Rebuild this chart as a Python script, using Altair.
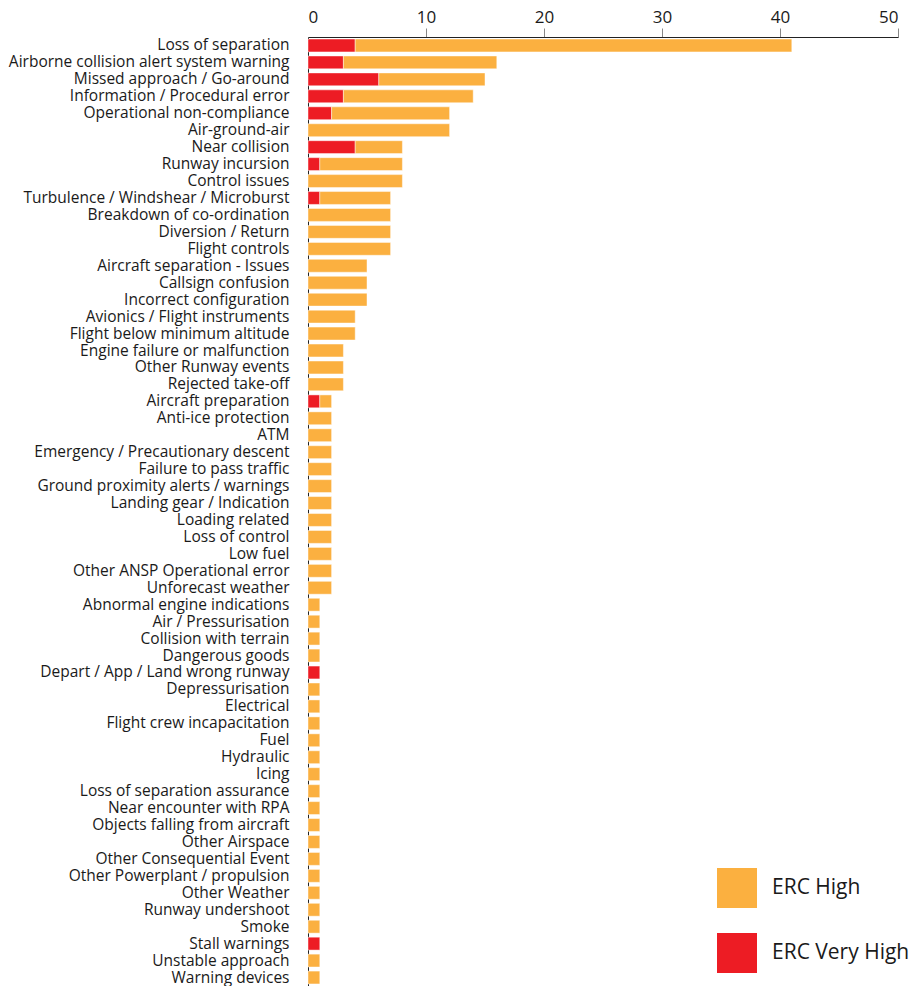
import altair as alt
import pandas as pd

categories = [
    "Loss of separation", "Airborne collision alert system warning", "Missed approach / Go-around",
    "Information / Procedural error", "Operational non-compliance", "Air-ground-air", "Near collision",
    "Runway incursion", "Control issues", "Turbulence / Windshear / Microburst", "Breakdown of co-ordination",
    "Diversion / Return", "Flight controls", "Aircraft separation - Issues", "Callsign confusion",
    "Incorrect configuration", "Avionics / Flight instruments", "Flight below minimum altitude",
    "Engine failure or malfunction", "Other Runway events", "Rejected take-off", "Aircraft preparation",
    "Anti-ice protection", "ATM", "Emergency / Precautionary descent", "Failure to pass traffic",
    "Ground proximity alerts / warnings", "Landing gear / Indication", "Loading related", "Loss of control",
    "Low fuel", "Other ANSP Operational error", "Unforecast weather", "Abnormal engine indications",
    "Air / Pressurisation", "Collision with terrain", "Dangerous goods", "Depart / App / Land wrong runway",
    "Depressurisation", "Electrical", "Flight crew incapacitation", "Fuel", "Hydraulic", "Icing",
    "Loss of separation assurance", "Near encounter with RPA", "Objects falling from aircraft",
    "Other Airspace", "Other Consequential Event", "Other Powerplant / propulsion", "Other Weather",
    "Runway undershoot", "Smoke", "Stall warnings", "Unstable approach", "Warning devices",
]

erc_very_high = [4, 3, 6, 3, 2, 0, 4, 1, 0, 1, 0, 0, 0, 0, 0, 0, 0, 0, 0, 0, 0, 1,
                 0, 0, 0, 0, 0, 0, 0, 0, 0, 0, 0, 0, 0, 0, 0, 1, 0, 0, 0, 0, 0, 0,
                 0, 0, 0, 0, 0, 0, 0, 0, 0, 1, 0, 0]

erc_high = [37, 13, 9, 11, 10, 12, 4, 7, 8, 6, 7, 7, 7, 5, 5, 5, 4, 4, 3, 3, 3, 1,
            2, 2, 2, 2, 2, 2, 2, 2, 2, 2, 2, 1, 1, 1, 1, 0, 1, 1, 1, 1, 1, 1,
            1, 1, 1, 1, 1, 1, 1, 1, 1, 0, 1, 1]

series_names = ["ERC High", "ERC Very High"]
series_colors = ["#FBB040", "#ED1C24"]

rows = []
for c, vh, h in zip(categories, erc_very_high, erc_high):
    if vh:
        rows.append({"category": c, "series": "ERC Very High", "value": vh, "ord": 0})
    if h:
        rows.append({"category": c, "series": "ERC High", "value": h, "ord": 1})
df = pd.DataFrame(rows)

FONT = "Open Sans"

chart = alt.Chart(df).mark_bar(
    stroke="white", strokeOpacity=0.45, strokeWidth=1
).encode(
    y=alt.Y("category:N", sort=categories, title=None,
            scale=alt.Scale(paddingInner=0.24, paddingOuter=0.12),
            axis=alt.Axis(ticks=False, labelPadding=19, labelFontSize=15.5, labelFont=FONT,
                          labelColor="#1a1a1a", domainColor="#222222", labelLimit=400)),
    x=alt.X("value:Q", title=None, stack="zero",
            scale=alt.Scale(domain=[0, 50], nice=False),
            axis=alt.Axis(orient="top", values=[0, 10, 20, 30, 40, 50], grid=False,
                          tickSize=9, tickColor={"condition": {"test": "datum.value === 0", "value": "transparent"}, "value": "#888888"},
                          labelFontSize=17, labelFont=FONT, labelColor="#1a1a1a", labelPadding=2,
                          domainColor="#222222")),
    color=alt.Color("series:N",
                    scale=alt.Scale(domain=series_names, range=series_colors),
                    legend=alt.Legend(title=None, orient="none", legendX=409, legendY=831,
                                      symbolType="square", symbolSize=1600, symbolStrokeWidth=0,
                                      labelFontSize=21, labelFont=FONT, labelColor="#1a1a1a",
                                      labelOffset=15, rowPadding=25, padding=0)),
    order=alt.Order("ord:Q"),
).properties(
    width=590, height=949,
    padding={"left": 0, "top": 0, "right": 0, "bottom": 0},
).configure_view(stroke=None)

chart.save("out.html", embed_options={"renderer": "svg", "actions": False})
